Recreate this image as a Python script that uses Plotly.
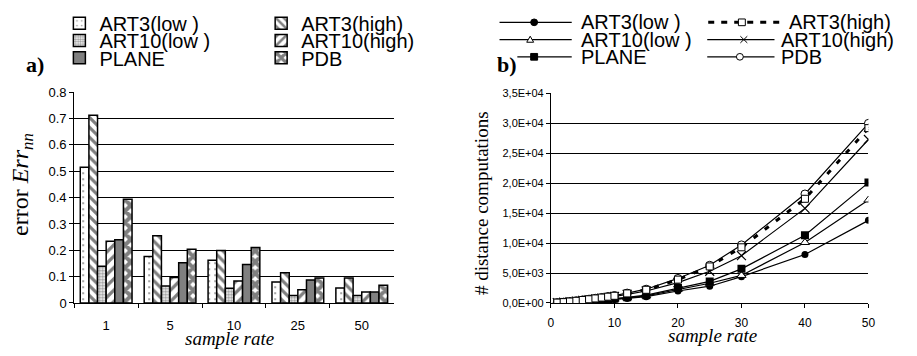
import plotly.graph_objects as go

# ---------------- data ----------------
# a) error per sample rate (grouped bars)
sample_cats = ["1", "5", "10", "25", "50"]
err_art3_low = [0.515, 0.176, 0.162, 0.080, 0.057]
err_art3_high = [0.713, 0.255, 0.199, 0.115, 0.095]
err_art10_low = [0.139, 0.064, 0.056, 0.028, 0.028]
err_art10_high = [0.234, 0.097, 0.083, 0.050, 0.042]
err_plane = [0.240, 0.153, 0.146, 0.087, 0.042]
err_pdb = [0.394, 0.204, 0.211, 0.095, 0.067]

# b) number of distance computations per sample rate (lines)
sample_rates = [1, 2, 3, 4, 5, 6, 7, 8, 9, 10, 12, 15, 20, 25, 30, 40, 50]
dist_art3_low = [25, 60, 110, 160, 220, 280, 350, 420, 490, 570, 760, 1050, 2000, 2800, 4400, 8100, 13800]
dist_art3_high = [60, 140, 240, 360, 500, 620, 760, 900, 1050, 1200, 1600, 2200, 3900, 6100, 9300, 17400, 29200]
dist_art10_low = [30, 70, 120, 180, 250, 320, 390, 470, 550, 640, 860, 1200, 2300, 3300, 4600, 10100, 17200]
dist_art10_high = [50, 120, 210, 320, 440, 550, 680, 800, 940, 1080, 1450, 2000, 3400, 5300, 7900, 15800, 27300]
dist_plane = [30, 80, 140, 200, 280, 350, 430, 520, 610, 700, 950, 1300, 2500, 3600, 5700, 11300, 20100]
dist_pdb = [60, 150, 250, 380, 520, 640, 780, 920, 1080, 1250, 1650, 2300, 4100, 6300, 9700, 18200, 30000]

err_ticks = [0, 0.1, 0.2, 0.3, 0.4, 0.5, 0.6, 0.7, 0.8]
dist_ticks = [0, 5000, 10000, 15000, 20000, 25000, 30000, 35000]
dist_ticktext = ["0,0E+00", "5,0E+03", "1,0E+04", "1,5E+04", "2,0E+04",
                 "2,5E+04", "3,0E+04", "3,5E+04"]
rate_ticks = [0, 10, 20, 30, 40, 50]

# ---------------- helpers ----------------
W, H = 917, 356
SANS = "Liberation Sans"
SERIF = "Liberation Serif"


def px(x):
    return x / W


def py(y):
    return 1 - y / H


fig = go.Figure()

# ---------------- a) bars ----------------
bar_series = [
    ("ART3(low )", err_art3_low, dict(shape=".", fgcolor="#000", bgcolor="#fff", size=6, solidity=0.08)),
    ("ART3(high)", err_art3_high, dict(shape="\\", fgcolor="#000", bgcolor="#fff", size=7, solidity=0.45)),
    ("ART10(low )", err_art10_low, dict(shape=".", fgcolor="#333", bgcolor="#fff", size=3, solidity=0.55)),
    ("ART10(high)", err_art10_high, dict(shape="/", fgcolor="#000", bgcolor="#fff", size=8, solidity=0.4)),
    ("PLANE", err_plane, None),
    ("PDB", err_pdb, dict(shape="x", fgcolor="#000", bgcolor="#fff", size=8, solidity=0.75)),
]
legend_pos = [(57, 17), (261, 17), (57, 35), (261, 35), (57, 53), (261, 53)]

for i, (name, vals, pat) in enumerate(bar_series):
    marker = dict(line=dict(color="#000", width=1.5))
    if pat is None:
        marker["color"] = "#808080"
    else:
        marker["color"] = "#fff"
        marker["pattern"] = pat
    fig.add_trace(go.Bar(
        x=sample_cats, y=vals, name=name, marker=marker,
        xaxis="x", yaxis="y",
        legend="legend" if i == 0 else f"legend{i + 1}",
    ))

# ---------------- b) lines ----------------
line_series = [
    ("ART3(low )", dist_art3_low, dict(color="#000", width=1.2), dict(symbol="circle", size=7, color="#000")),
    ("ART10(low )", dist_art10_low, dict(color="#000", width=1.2), dict(symbol="triangle-up", size=8, color="#fff", line=dict(color="#000", width=1))),
    ("PLANE", dist_plane, dict(color="#000", width=1.2), dict(symbol="square", size=8, color="#000")),
    ("ART10(high)", dist_art10_high, dict(color="#000", width=1.2), dict(symbol="x-thin-open", size=9, color="#000", line=dict(color="#000", width=1.2))),
    ("PDB", dist_pdb, dict(color="#000", width=1.2), dict(symbol="circle", size=8, color="#fff", line=dict(color="#000", width=1))),
    ("ART3(high)", dist_art3_high, dict(color="#000", width=3, dash="5px,9px"), dict(symbol="square", size=7, color="#fff", line=dict(color="#000", width=1))),
]
for name, vals, ln, mk in line_series:
    fig.add_trace(go.Scatter(
        x=sample_rates, y=vals, name=name, mode="lines+markers",
        line=ln, marker=mk, xaxis="x2", yaxis="y2", showlegend=False,
    ))

# ---------------- hand-built legend for b) ----------------
shapes = []
annotations = []


def seg(x0, x1, y, dash="solid", width=1.2):
    shapes.append(dict(type="line", xref="paper", yref="paper",
                       x0=px(x0), x1=px(x1), y0=py(y), y1=py(y),
                       line=dict(color="#000", width=width, dash=dash)))


def glyph(kind, cx, cy, s=3.5):
    box = dict(xref="paper", yref="paper", x0=px(cx - s), x1=px(cx + s),
               y0=py(cy + s), y1=py(cy - s))
    if kind == "circle-filled":
        shapes.append(dict(type="circle", fillcolor="#000", line=dict(color="#000", width=1), **box))
    elif kind == "circle-open":
        shapes.append(dict(type="circle", fillcolor="#fff", line=dict(color="#000", width=1), **box))
    elif kind == "square-filled":
        shapes.append(dict(type="rect", fillcolor="#000", line=dict(color="#000", width=1), **box))
    elif kind == "square-open":
        shapes.append(dict(type="rect", fillcolor="#fff", line=dict(color="#000", width=1), **box))
    elif kind == "triangle-open":
        path = (f"M{px(cx - s)},{py(cy + s * 0.8)} L{px(cx + s)},{py(cy + s * 0.8)} "
                f"L{px(cx)},{py(cy - s)} Z")
        shapes.append(dict(type="path", xref="paper", yref="paper", path=path,
                           fillcolor="#fff", line=dict(color="#000", width=1)))
    elif kind == "x":
        for a, b in ((-1, 1), (1, -1)):
            shapes.append(dict(type="line", xref="paper", yref="paper",
                               x0=px(cx - s), x1=px(cx + s), y0=py(cy + a * s), y1=py(cy + b * s),
                               line=dict(color="#000", width=1)))


line_legend = [
    # name, line start, line end, marker x, row y, text x, dash, width, glyph
    ("ART3(low )", 502, 575, 537, 16, 582, "solid", 1.2, "circle-filled"),
    ("ART10(low )", 502, 575, 533, 34, 582, "solid", 1.2, "triangle-open"),
    ("PLANE", 520, 575, 537, 52, 582, "solid", 1.2, "square-filled"),
    ("ART3(high)", 713, 790, 747, 16, 793, "6px,7px", 3, "square-open"),
    ("ART10(high)", 712, 780, 749, 34, 785, "solid", 1.2, "x"),
    ("PDB", 712, 780, 745, 52, 785, "solid", 1.2, "circle-open"),
]
for name, l0, l1, mx, ry, tx, dash, wd, gk in line_legend:
    seg(l0, l1, ry, dash, wd)
    glyph(gk, mx, ry)
    annotations.append(dict(text=name, x=px(tx), y=py(ry), xref="paper", yref="paper",
                            xanchor="left", yanchor="middle", showarrow=False,
                            font=dict(family=SANS, size=20, color="#000")))

# ---------------- titles and panel letters ----------------
annotations += [
    dict(text="<b>a)</b>", x=px(32), y=py(60), font=dict(family=SERIF, size=22, color="#000")),
    dict(text="<b>b)</b>", x=px(510), y=py(60), font=dict(family=SERIF, size=22, color="#000")),
    dict(text="<i>sample rate</i>", x=px(229), y=py(346), font=dict(family=SERIF, size=19, color="#000")),
    dict(text="<i>sample rate</i>", x=px(717), y=py(342.5), font=dict(family=SERIF, size=19, color="#000")),
    dict(text="error <i>Err</i><sub><i>nn</i></sub>", x=px(19), y=py(185), textangle=-90,
         font=dict(family=SERIF, size=24, color="#000")),
    dict(text="# distance computations", x=px(484), y=py(205), textangle=-90,
         font=dict(family=SERIF, size=19, color="#000")),
]
for a in annotations[-6:]:
    a.update(xref="paper", yref="paper", xanchor="center", yanchor="middle", showarrow=False)

# ---------------- layout ----------------
legend_common = dict(bgcolor="rgba(0,0,0,0)", borderwidth=0, xanchor="left", yanchor="middle",
                     font=dict(family=SANS, size=20, color="#000"), itemwidth=30,
                     orientation="v", tracegroupgap=0)
legends = {}
for i, (lx, ly) in enumerate(legend_pos):
    key = "legend" if i == 0 else f"legend{i + 1}"
    legends[key] = dict(x=px(lx), y=py(ly), **legend_common)

axis_common = dict(showline=True, linecolor="#000", linewidth=1, ticks="outside",
                   tickcolor="#000", ticklen=4, zeroline=False, mirror=False)

fig.update_layout(
    width=W, height=H, margin=dict(l=0, r=0, t=0, b=0),
    paper_bgcolor="#fff", plot_bgcolor="#fff",
    barmode="group", bargap=0.19, bargroupgap=0,
    showlegend=True,
    shapes=shapes, annotations=annotations,
    xaxis=dict(domain=[px(72), px(395)], anchor="y", type="category", tickson="boundaries",
               showgrid=False, ticklabelstandoff=10,
               tickfont=dict(family=SANS, size=13, color="#000"), **axis_common),
    yaxis=dict(domain=[py(309), py(89)], anchor="x", range=[0, 0.8], tickvals=err_ticks,
               showgrid=True, gridcolor="#000", gridwidth=1,
               tickfont=dict(family=SANS, size=13, color="#000"), **axis_common),
    xaxis2=dict(domain=[px(554), px(875)], anchor="y2", range=[0, 50], tickvals=rate_ticks,
                showgrid=False, ticklabelstandoff=5,
                tickfont=dict(family=SANS, size=12, color="#000"), **axis_common),
    yaxis2=dict(domain=[py(309), py(90.2)], anchor="x2", range=[0, 35000], tickvals=dist_ticks,
                ticktext=dist_ticktext, showgrid=True, gridcolor="#000", gridwidth=1,
                tickfont=dict(family=SANS, size=11, color="#000"), **axis_common),
    **legends,
)

fig.write_html("out.html")
